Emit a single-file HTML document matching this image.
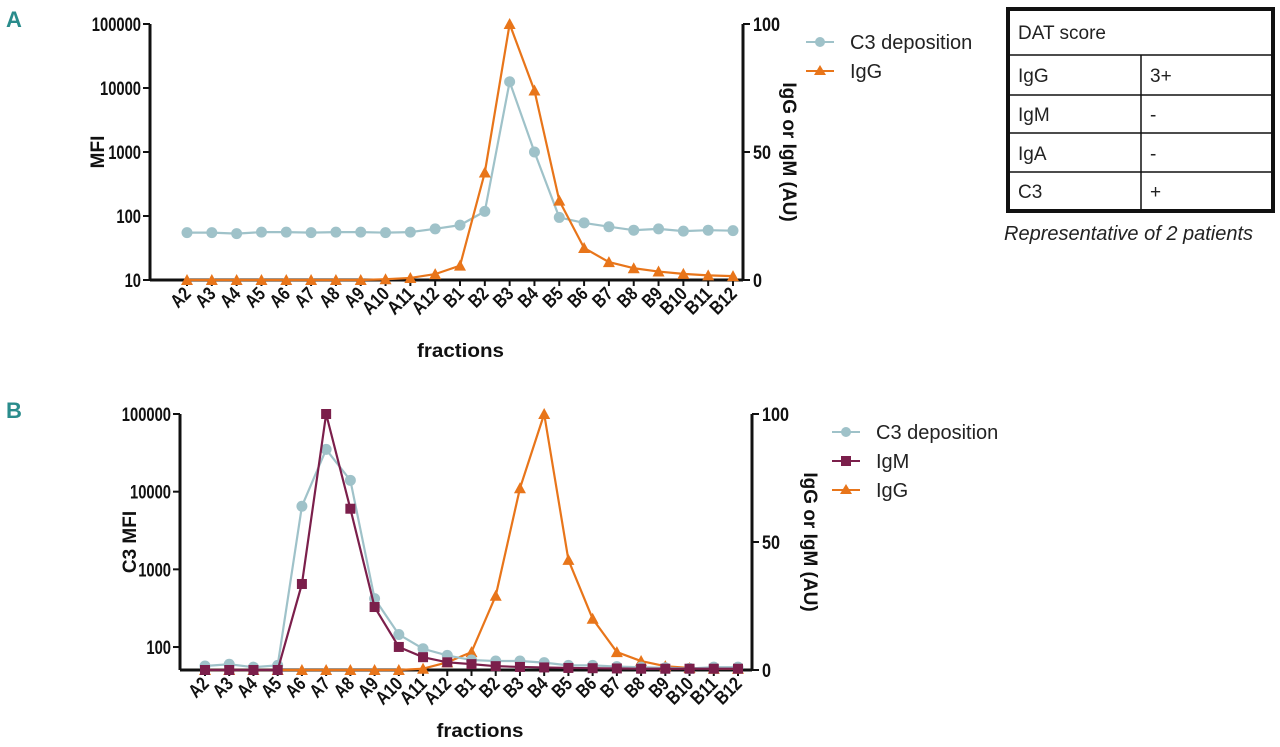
<!DOCTYPE html>
<html><head><meta charset="utf-8"><style>
body{margin:0;background:#fff;}
svg{display:block;font-family:"Liberation Sans",sans-serif;}
.t{font-weight:bold;font-size:19px;fill:#111;}
.lg{font-family:"Liberation Sans",sans-serif;font-size:20px;fill:#222;}
</style></head><body>
<svg id="c" width="1280" height="747" viewBox="0 0 1280 747">
<text x="6" y="27" fill="#2a8c8c" font-weight="bold" font-size="22">A</text>
<text x="6" y="418" fill="#2a8c8c" font-weight="bold" font-size="22">B</text>
<g font-family="Liberation Sans, sans-serif" font-size="19" fill="#222">
<rect x="1008" y="9" width="265" height="202" fill="none" stroke="#111" stroke-width="4"/>
<line x1="1008" y1="55" x2="1273" y2="55" stroke="#111" stroke-width="1.5"/>
<line x1="1008" y1="95" x2="1273" y2="95" stroke="#111" stroke-width="1.5"/>
<line x1="1008" y1="133" x2="1273" y2="133" stroke="#111" stroke-width="1.5"/>
<line x1="1008" y1="172" x2="1273" y2="172" stroke="#111" stroke-width="1.5"/>
<line x1="1141" y1="55" x2="1141" y2="211" stroke="#111" stroke-width="1.5"/>
<text x="1018" y="39">DAT score</text>
<text x="1018" y="82">IgG</text><text x="1150" y="82">3+</text>
<text x="1018" y="121">IgM</text><text x="1150" y="121">-</text>
<text x="1018" y="160">IgA</text><text x="1150" y="160">-</text>
<text x="1018" y="198">C3</text><text x="1150" y="198">+</text>
<text x="1004" y="240" font-style="italic" font-size="20">Representative of 2 patients</text>
</g>
</svg>
<script>
const cats=["A2","A3","A4","A5","A6","A7","A8","A9","A10","A11","A12","B1","B2","B3","B4","B5","B6","B7","B8","B9","B10","B11","B12"];
const aC3=[55,55,53,56,56,55,56,56,55,56,63,72,118,12500,1000,95,78,68,60,63,58,60,59];
const aIgG=[0,0,0,0,0,0,0,0,0.3,0.8,2.3,5.6,42,100,74,31,12.5,7,4.6,3.3,2.4,1.8,1.5];
const bC3=[57,60,55,58,6500,35000,14000,420,145,95,78,68,66,66,63,58,58,56,55,54,53,55,55];
const bIgM=[0,0,0,0,33.6,100,63,24.6,9,5,3,2.3,1.5,1.2,1,0.8,0.7,0.6,0.5,0.5,0.5,0.5,0.5];
const bIgG=[0,0,0,0,0,0,0,0,0,0.5,3,7,29,71,100,43,20,7,3.5,1.5,0.8,0.5,0.5];
const logTicksA=[10,100,1000,10000,100000];
const logTicksB=[100,1000,10000,100000];
const rightTicks=[0,50,100];
const C3C="#9fc2c9",IGG="#e8751a",IGM="#7b1f4b";
const svg=document.getElementById('c');
const NS="http://www.w3.org/2000/svg";
function mk(tag,at,parent){const e=document.createElementNS(NS,tag);for(const k in at)e.setAttribute(k,at[k]);(parent||svg).appendChild(e);return e;}
function panel(p){
  const g=mk('g',{});
  
  
  const xs=i=>p.x0+(p.x1-p.x0)*i/(cats.length-1);
  const ly=v=>p.yb-(Math.log10(v)-Math.log10(p.lmin))/(Math.log10(p.lmax)-Math.log10(p.lmin))*(p.yb-p.yt);
  const ry=v=>p.yb-v/100*(p.yb-p.yt);
  const la=mk('line',{x1:p.ax,y1:p.yt,x2:p.ax,y2:p.yb,stroke:"#111","stroke-width":3},g);
  
  const ra=mk('line',{x1:p.rx,y1:p.yt,x2:p.rx,y2:p.yb,stroke:"#111","stroke-width":3},g);
  
  const xa=mk('line',{x1:p.ax,y1:p.yb,x2:p.rx,y2:p.yb,stroke:"#111","stroke-width":3},g);
  
  p.lt.forEach(v=>{const y=ly(v);mk('line',{x1:p.ax-7,y1:y,x2:p.ax,y2:y,stroke:"#111","stroke-width":2},g);
    const s=String(v);
    const t=mk('text',{x:p.ax-9,y:y+7,"text-anchor":"end",class:"t",textLength:s.length*8.2,lengthAdjust:"spacingAndGlyphs"},g);t.textContent=s;
    });
  rightTicks.forEach(v=>{const y=ry(v);mk('line',{x1:p.rx,y1:y,x2:p.rx+7,y2:y,stroke:"#111","stroke-width":2},g);
    const s=String(v);
    const t=mk('text',{x:p.rx+10,y:y+7,class:"t",textLength:s.length*9,lengthAdjust:"spacingAndGlyphs"},g);t.textContent=s;
    });
  cats.forEach((c,i)=>{const x=xs(i);mk('line',{x1:x,y1:p.yb,x2:x,y2:p.yb+6,stroke:"#111","stroke-width":2},g);
    const t=mk('text',{x:x+5,y:p.yb+15,"text-anchor":"end",class:"t","font-size":19,textLength:c.length*9.8,lengthAdjust:"spacingAndGlyphs",transform:`rotate(-45 ${x+5} ${p.yb+15})`},g);t.textContent=c;
    });
  const xt=mk('text',{x:(p.ax+p.rx)/2+14,y:p.xty,"text-anchor":"middle",class:"t","font-size":21,textLength:87,lengthAdjust:"spacingAndGlyphs"},g);xt.textContent="fractions";
  
  const yt=mk('text',{x:0,y:0,"text-anchor":"middle",class:"t","font-size":20,transform:`translate(${p.ytx},${(p.yt+p.yb)/2}) rotate(-90)`},g);yt.textContent=p.ytitle;
  
  const rt=mk('text',{x:0,y:0,"text-anchor":"middle",class:"t","font-size":20,transform:`translate(${p.rtx},${(p.yt+p.yb)/2}) rotate(90)`},g);rt.textContent="IgG or IgM (AU)";
  
  function series(vals,yf,col,shape,nm){
    const pts=vals.map((v,i)=>[xs(i),yf(v)]);
    const pl=mk('polyline',{points:pts.map(q=>q.join(',')).join(' '),fill:"none",stroke:col,"stroke-width":2.2},g);
    
    pts.forEach(([x,y])=>{let m;
      if(shape==='c')m=mk('circle',{cx:x,cy:y,r:5.5,fill:col},g);
      else if(shape==='s')m=mk('rect',{x:x-5,y:y-5,width:10,height:10,fill:col},g);
      else m=mk('polygon',{points:`${x},${y-6} ${x-6},${y+5} ${x+6},${y+5}`,fill:col},g);
      });
  }
  p.series.forEach(s=>series(s.v,s.axis==='l'?ly:ry,s.col,s.shape,s.nm));
  p.series.slice().sort((a,b)=>a.lo-b.lo).forEach((s,k)=>{
    const y=p.lgy+k*29,lx=p.lgx;
    const lg=mk('g',{},g);
    mk('line',{x1:lx,y1:y,x2:lx+28,y2:y,stroke:s.col,"stroke-width":2},lg);
    if(s.shape==='c')mk('circle',{cx:lx+14,cy:y,r:5,fill:s.col},lg);
    else if(s.shape==='s')mk('rect',{x:lx+9,y:y-5,width:10,height:10,fill:s.col},lg);
    else mk('polygon',{points:`${lx+14},${y-6} ${lx+8},${y+4} ${lx+20},${y+4}`,fill:s.col},lg);
    const t=mk('text',{x:lx+44,y:y+7,class:"lg"},lg);t.textContent=s.label;
  });
}
panel({name:"panel-a-chart",x0:187,x1:733,ax:150,rx:743,yt:24,yb:280,lmin:10,lmax:100000,lt:logTicksA,ytitle:"MFI",ytx:104,rtx:783,xty:357,lgx:806,lgy:42,
  series:[{v:aC3,axis:'l',col:C3C,shape:'c',nm:'c3-deposition',label:'C3 deposition',lo:0},{v:aIgG,axis:'r',col:IGG,shape:'t',nm:'igg',label:'IgG',lo:1}]});
panel({name:"panel-b-chart",x0:205,x1:738,ax:180,rx:752,yt:414,yb:670,lmin:50.6,lmax:100000,lt:logTicksB,ytitle:"C3 MFI",ytx:136,rtx:804,xty:737,lgx:832,lgy:432,
  series:[{v:bIgG,axis:'r',col:IGG,shape:'t',nm:'igg',label:'IgG',lo:2},{v:bC3,axis:'l',col:C3C,shape:'c',nm:'c3-deposition',label:'C3 deposition',lo:0},{v:bIgM,axis:'r',col:IGM,shape:'s',nm:'igm',label:'IgM',lo:1}]});
</script>
</body></html>
